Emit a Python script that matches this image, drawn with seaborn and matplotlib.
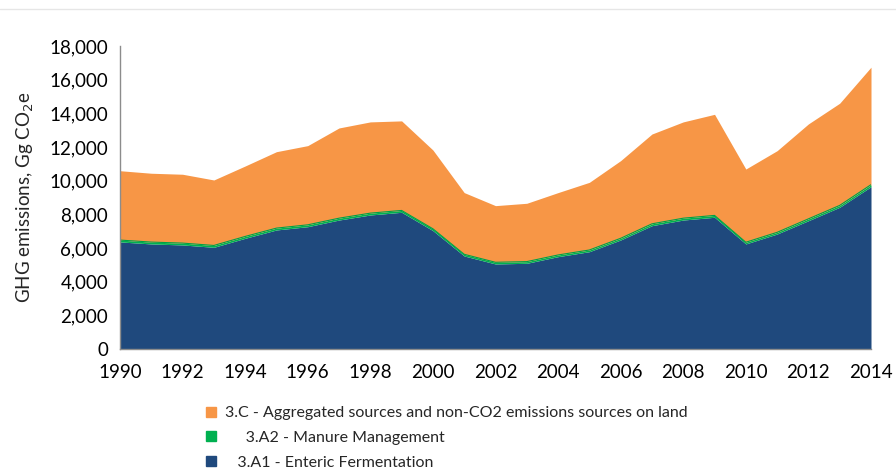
#!/usr/bin/env python3

import pandas as pd
import seaborn as sns
import matplotlib.pyplot as plt
from matplotlib.lines import Line2D

# ==========================
# DATA
# ==========================
years = list(range(1990, 2015))

# 3.A1 - Enteric Fermentation, Gg CO2e
enteric = [6360, 6240, 6180, 6040, 6575, 7070, 7265, 7660, 7960, 8120,
           7030, 5525, 5050, 5090, 5485, 5780, 6475, 7325, 7660, 7825,
           6240, 6830, 7620, 8420, 9640]

# 3.A2 - Manure Management
manure = [110, 110, 110, 110, 110, 110, 110, 110, 110, 110,
          110, 100, 100, 100, 100, 100, 100, 110, 110, 110,
          100, 100, 110, 110, 120]

# stack totals (top of the orange area)
total = [10590, 10440, 10380, 10040, 10870, 11720, 12080, 13130, 13490, 13550,
         11820, 9290, 8515, 8655, 9290, 9900, 11190, 12770, 13490, 13940,
         10690, 11780, 13370, 14600, 16740]

# 3.C - Aggregated sources = total minus the two lower layers
aggregated = [t - e - m for t, e, m in zip(total, enteric, manure)]

labels = ["3.C - Aggregated sources and non-CO2 emissions sources on land",
          "     3.A2 - Manure Management",
          "   3.A1 - Enteric Fermentation"]
colors = ["#F79646", "#00B050", "#1F497D"]

y_ticks = list(range(0, 18001, 2000))
x_ticks = list(range(1990, 2015, 2))

# ==========================
# Long table for seaborn
# ==========================
rows = []
for lab, vals in zip(labels, [aggregated, manure, enteric]):
    for yr, v in zip(years, vals):
        rows.append({"year": yr, "source": lab, "value": v})
df = pd.DataFrame(rows)

# ==========================
# Plot
# ==========================
sns.set_style("white")
plt.rcParams["font.family"] = ["Lato", "DejaVu Sans"]

fig = plt.figure(figsize=(8.96, 4.75), dpi=100)
ax = fig.add_axes([0.1339, 0.2653, 0.9721 - 0.1339, 0.9032 - 0.2653])

# last hue level ends up at the bottom of the stack
sns.histplot(data=df, x="year", weights="value", hue="source",
             hue_order=labels, palette=colors, multiple="stack",
             element="poly", discrete=True, alpha=1, linewidth=0,
             legend=False, ax=ax)

# thin darker outline on the manure band
man_top = [e + m for e, m in zip(enteric, manure)]
ax.plot(years, man_top, color="#00A046", lw=0.8)

ax.set_xlim(1990, 2014)
ax.set_ylim(0, 18000)
ax.set_xticks(x_ticks)
ax.set_xticks(years, minor=True)
ax.set_yticks(y_ticks)
ax.set_yticklabels([f"{v:,}" for v in y_ticks])
ax.tick_params(axis="both", which="both", direction="out", colors="#8C8C8C",
               labelcolor="black", labelsize=13.5, length=5, width=1)
ax.tick_params(axis="x", which="minor", length=5)
ax.tick_params(axis="x", pad=6)

for side in ["top", "right"]:
    ax.spines[side].set_visible(False)
for side in ["left", "bottom"]:
    ax.spines[side].set_color("#8C8C8C")
    ax.spines[side].set_linewidth(1)

ax.set_xlabel("")
ax.set_ylabel("GHG emissions, Gg CO$_2$e", fontsize=13.5, labelpad=10)

# legend below the plot
handles = [Line2D([0], [0], marker="s", linestyle="none", markersize=7,
                  markerfacecolor=c, markeredgecolor=c) for c in colors]
fig.legend(handles, labels, loc="upper left", bbox_to_anchor=(0.2265, 0.1453),
           frameon=False, fontsize=11.5, handletextpad=0.4, labelspacing=0.66,
           handlelength=1.0, borderaxespad=0, borderpad=0)

# faint rule across the top of the image
fig.add_artist(Line2D([0, 1], [1 - 9 / 475, 1 - 9 / 475], color="#E6E6E6", lw=1))

plt.savefig("out.png", dpi=100)
plt.close()
